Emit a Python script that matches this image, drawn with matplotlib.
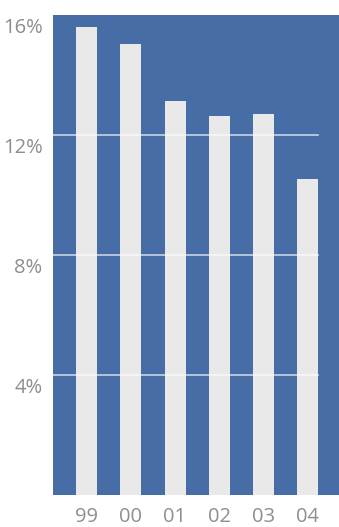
import matplotlib
matplotlib.use("Agg")
import matplotlib.pyplot as plt
import matplotlib.transforms as mtransforms

categories = ["99", "00", "01", "02", "03", "04"]
values = [15.6, 15.03, 13.13, 12.63, 12.7, 10.53]
yticks = [4, 8, 12, 16]
ytick_labels = ["4%", "8%", "12%", "16%"]

W, H = 339, 527
fig = plt.figure(figsize=(W / 100, H / 100), dpi=100)
ax = fig.add_axes([53 / W, 32 / H, 286 / W, 480 / H])
ax.set_facecolor("#466da5")
for s in ax.spines.values():
    s.set_visible(False)

x = list(range(len(categories)))
ax.bar(x, values, width=0.475, color="#e9e9e9", zorder=2)
ax.set_xlim(-0.76, 5.71)
ax.set_ylim(0, 16)

for t in [4, 8, 12]:
    ax.plot([-0.76, 5.24], [t, t], color="white", alpha=0.7, lw=1.2, zorder=3)

font = dict(family=["Open Sans", "DejaVu Sans"], size=14.5, color="#8e8e8e")
ax.set_xticks(x)
ax.set_xticklabels(categories, **font)
ax.set_yticks(yticks)
ax.set_yticklabels(ytick_labels, **font, va="top")
ax.tick_params(axis="both", length=0)
ax.tick_params(axis="x", pad=8.5)
ax.tick_params(axis="y", pad=7.5)
offset = mtransforms.ScaledTranslation(0, -2 / 72, fig.dpi_scale_trans)
for lbl in ax.get_yticklabels():
    lbl.set_transform(lbl.get_transform() + offset)

fig.savefig("out.png", dpi=100)
